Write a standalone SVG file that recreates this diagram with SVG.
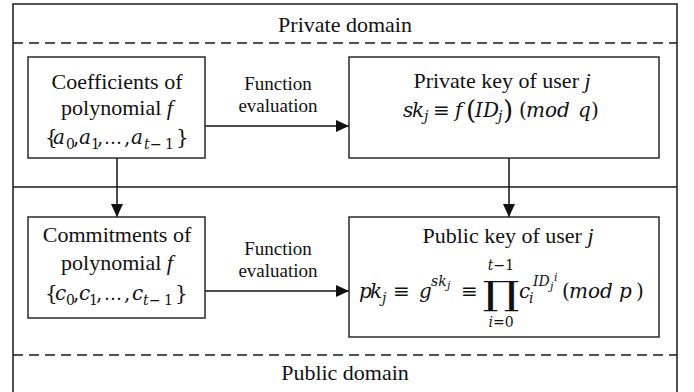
<svg xmlns="http://www.w3.org/2000/svg" width="694" height="392" viewBox="0 0 694 392">
<style>
.frame{fill:none;stroke:#1a1a1a;stroke-width:1.5}
.dash{fill:none;stroke:#1a1a1a;stroke-width:1.5;stroke-dasharray:10 6}
.box{fill:#fff;stroke:#2a2a2a;stroke-width:1.5}
.conn{fill:none;stroke:#111;stroke-width:1.5}
.lbl{font-size:22px;fill:#111}
.fn{font-size:19px;fill:#111}
.m{font-size:20px;fill:#111}
.i{font-style:italic}
.s{font-size:14px}
.ss{font-size:11px}
</style>
<defs>
<marker id="ah" viewBox="0 0 13 12" refX="13" refY="6" markerWidth="13" markerHeight="12" markerUnits="userSpaceOnUse" orient="auto">
<path d="M0,0 L13,6 L0,12 z" fill="#111"/>
</marker>
</defs>

<g id="frame" font-family="'Liberation Serif', 'Times New Roman', serif">
<path class="frame" d="M13,393 V4 H677 V393"/>
<line class="dash" x1="13" y1="43" x2="677" y2="43"/>
<line class="frame" x1="13" y1="187" x2="677" y2="187"/>
<line class="dash" x1="13" y1="355" x2="677" y2="355"/>
<text class="lbl" x="345" y="32" text-anchor="middle">Private domain</text>
<text class="lbl" x="345" y="380" text-anchor="middle">Public domain</text>
</g>

<g id="connectors" font-family="'Liberation Serif', 'Times New Roman', serif">
<line class="conn" x1="205" y1="126" x2="349" y2="126" marker-end="url(#ah)"/>
<line class="conn" x1="205" y1="291" x2="349" y2="291" marker-end="url(#ah)"/>
<line class="conn" x1="117" y1="158" x2="117" y2="217" marker-end="url(#ah)"/>
<line class="conn" x1="509" y1="158" x2="509" y2="217" marker-end="url(#ah)"/>
<text class="fn" x="278" y="90" text-anchor="middle">Function</text>
<text class="fn" x="278" y="112" text-anchor="middle">evaluation</text>
<text class="fn" x="278" y="255" text-anchor="middle">Function</text>
<text class="fn" x="278" y="277" text-anchor="middle">evaluation</text>
</g>

<g id="coefficients" font-family="'Liberation Serif', 'Times New Roman', serif">
<rect class="box" x="28" y="57" width="177" height="101"/>
<text class="lbl" x="117" y="89" text-anchor="middle">Coefficients of</text>
<text class="lbl" x="117" y="115" text-anchor="middle">polynomial <tspan class="i">f</tspan></text>
<text class="m" y="144" font-family="'DejaVu Serif', 'Liberation Serif', serif"><tspan x="45">{</tspan><tspan x="53" class="i">a</tspan><tspan x="66" y="149" class="s">0</tspan><tspan x="73" y="144">,</tspan><tspan x="79" class="i">a</tspan><tspan x="91" y="149" class="s">1</tspan><tspan x="97" y="144">,</tspan><tspan x="104" style="font-size:18px">…</tspan><tspan x="124">,</tspan><tspan x="131" class="i">a</tspan><tspan x="144" y="149" class="s i">t</tspan><tspan x="150" class="s">−</tspan><tspan x="165" class="s">1</tspan><tspan x="176" y="144">}</tspan></text>
</g>

<g id="private-key" font-family="'Liberation Serif', 'Times New Roman', serif">
<rect class="box" x="349" y="57" width="310" height="101"/>
<text class="lbl" x="502" y="88" text-anchor="middle">Private key of user <tspan class="i">j</tspan></text>
<text class="m" y="117" font-family="'DejaVu Serif', 'Liberation Serif', serif"><tspan x="403" class="i">s</tspan><tspan x="412" class="i">k</tspan><tspan x="424" y="121" class="s i">j</tspan><tspan x="433" y="117">≡</tspan><tspan x="455" class="i">f</tspan><tspan x="466" y="119" style="font-size:26px">(</tspan><tspan x="475" y="117" class="i">I</tspan><tspan x="483" class="i">D</tspan><tspan x="498" y="121" class="s i">j</tspan><tspan x="503" y="119" style="font-size:26px">)</tspan><tspan x="519" y="117">(</tspan><tspan x="526" class="i">mod</tspan><tspan x="578" class="i">q</tspan><tspan x="591">)</tspan></text>
</g>

<g id="commitments" font-family="'Liberation Serif', 'Times New Roman', serif">
<rect class="box" x="28" y="217" width="177" height="101"/>
<text class="lbl" x="117" y="242" text-anchor="middle">Commitments of</text>
<text class="lbl" x="117" y="270" text-anchor="middle">polynomial <tspan class="i">f</tspan></text>
<text class="m" y="300" font-family="'DejaVu Serif', 'Liberation Serif', serif"><tspan x="45">{</tspan><tspan x="55" class="i">c</tspan><tspan x="66" y="305" class="s">0</tspan><tspan x="73" y="300">,</tspan><tspan x="79" class="i">c</tspan><tspan x="89" y="305" class="s">1</tspan><tspan x="96" y="300">,</tspan><tspan x="104" style="font-size:18px">…</tspan><tspan x="124">,</tspan><tspan x="132" class="i">c</tspan><tspan x="143" y="305" class="s i">t</tspan><tspan x="149" class="s">−</tspan><tspan x="164" class="s">1</tspan><tspan x="175" y="300">}</tspan></text>
</g>

<g id="public-key" font-family="'Liberation Serif', 'Times New Roman', serif">
<rect class="box" x="349" y="217" width="310" height="120"/>
<text class="lbl" x="508" y="243" text-anchor="middle">Public key of user <tspan class="i">j</tspan></text>
<text class="m" y="298" font-family="'DejaVu Serif', 'Liberation Serif', serif"><tspan x="359" class="i">p</tspan><tspan x="370" class="i">k</tspan><tspan x="382" y="303" class="s i">j</tspan><tspan x="393" y="298">≡</tspan><tspan x="419" class="i">g</tspan><tspan x="431" y="286" class="s i">sk</tspan><tspan x="447" y="289" class="ss i">j</tspan><tspan x="461" y="298">≡</tspan><tspan x="519" class="i">c</tspan><tspan x="529" y="303" class="s i">i</tspan><tspan x="533" y="286" class="s i">ID</tspan><tspan x="550" y="290" class="ss i">j</tspan><tspan x="554" y="281" class="ss i">i</tspan><tspan x="562" y="298">(</tspan><tspan x="569" class="i">mod</tspan><tspan x="619" class="i">p</tspan><tspan x="636">)</tspan></text>
<text class="m" transform="translate(501,305) scale(1.4,1)" x="0" y="0" text-anchor="middle" style="font-size:33px" font-family="'DejaVu Serif', serif">∏</text>
<text class="m s" x="501" y="270" text-anchor="middle" font-family="'DejaVu Serif', serif"><tspan class="i">t</tspan>−1</text>
<text class="m s" x="501" y="327" text-anchor="middle" font-family="'DejaVu Serif', serif"><tspan class="i">i</tspan>=0</text>
</g>
</svg>
